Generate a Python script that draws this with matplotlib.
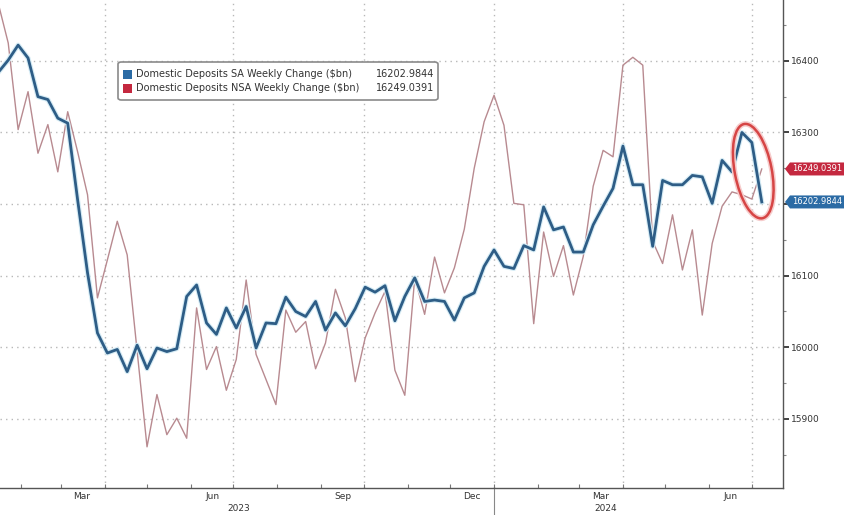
import numpy as np
import pandas as pd
import matplotlib
matplotlib.use('Agg')
import matplotlib.pyplot as plt
import matplotlib.dates as mdates
from matplotlib.patches import Ellipse, Polygon, FancyBboxPatch, Rectangle
from matplotlib.transforms import ScaledTranslation, blended_transform_factory
import matplotlib.patheffects as pe

# ---------------- data ----------------
END_DATE = '2024-07-08'

sa_values = [16384, 16401, 16422, 16404, 16350, 16346, 16320, 16313, 16206, 16104,
             16020, 15992, 15997, 15966, 16003, 15970, 15999, 15994, 15998, 16071,
             16087, 16034, 16018, 16055, 16027, 16057, 15999, 16034, 16033, 16070,
             16050, 16043, 16064, 16024, 16048, 16030, 16054, 16084, 16077, 16086,
             16037, 16071, 16097, 16064, 16066, 16064, 16038, 16069, 16076, 16113,
             16136, 16113, 16110, 16142, 16136, 16196, 16164, 16168, 16133, 16133,
             16171, 16197, 16222, 16281, 16227, 16227, 16141, 16233, 16227, 16227,
             16240, 16238, 16201, 16261, 16245, 16300, 16286, 16202.9844]

nsa_values = [16480, 16425, 16304, 16357, 16271, 16311, 16245, 16329, 16273, 16213,
              16069, 16122, 16176, 16129, 15995, 15861, 15934, 15878, 15901, 15873,
              16055, 15969, 16001, 15940, 15983, 16094, 15990, 15955, 15920, 16052,
              16021, 16036, 15970, 16006, 16081, 16041, 15952, 16013, 16048, 16078,
              15968, 15933, 16097, 16046, 16126, 16076, 16111, 16165, 16250, 16315,
              16352, 16310, 16201, 16199, 16033, 16161, 16099, 16142, 16073, 16127,
              16225, 16275, 16266, 16394, 16405, 16394, 16148, 16117, 16185, 16108,
              16164, 16045, 16145, 16197, 16217, 16213, 16207, 16249.0391]

dates = pd.date_range(end=END_DATE, periods=len(sa_values), freq='7D')

SA_LABEL = 'Domestic Deposits SA Weekly Change ($bn)'
NSA_LABEL = 'Domestic Deposits NSA Weekly Change ($bn)'

y_ticks = [15900, 16000, 16100, 16200, 16300, 16400]
y_tick_labels = ['15900', '16000', '16100', '', '16300', '16400']
month_labels = ['Mar', 'Jun', 'Sep', 'Dec', 'Mar', 'Jun']
month_label_dates = ['2023-03-16', '2023-06-16', '2023-09-16', '2023-12-16', '2024-03-16', '2024-06-16']
year_labels = ['2023', '2024']
year_label_dates = ['2023-07-05', '2024-03-20']
quarter_starts = ['2023-04-01', '2023-07-01', '2023-10-01', '2024-01-01', '2024-04-01', '2024-07-01']

# ---------------- style ----------------
SA_COLOR = '#2e5d86'
SA_GLOW = '#d6ecf5'
NSA_COLOR = '#b88a90'
TAG_RED = '#c4283f'
TAG_BLUE = '#2b6ba5'
TXT = '#333333'
GRID = '#b8b8b8'

W, H = 848, 515
fig = plt.figure(figsize=(W / 100, H / 100), dpi=100)
fig.patch.set_facecolor('white')
AX_RIGHT_PX = 783
AX_BOTTOM_PX = 488
ax = fig.add_axes([0, 1 - AX_BOTTOM_PX / H, AX_RIGHT_PX / W, AX_BOTTOM_PX / H])
ax.set_facecolor('white')

x = dates
ax.plot(x, nsa_values, color=NSA_COLOR, lw=1.0, zorder=3, solid_joinstyle='round')
ax.plot(x, sa_values, color=SA_COLOR, lw=2.0, zorder=4, solid_joinstyle='round',
        path_effects=[pe.Stroke(linewidth=3.6, foreground=SA_GLOW, joinstyle='round'), pe.Normal()])

ax.set_ylim(15803.5, 16485)
ax.set_xlim(dates[0] + pd.Timedelta(days=1.2), dates[-1] + pd.Timedelta(days=15))

# grid
for yv in y_ticks:
    ax.axhline(yv, color=GRID, lw=1.0, ls=(0, (1, 3)), zorder=1)
for q in quarter_starts:
    ax.axvline(pd.Timestamp(q), color=GRID, lw=1.0, ls=(0, (1, 3)), zorder=1)

# spines
for s in ['top', 'left']:
    ax.spines[s].set_visible(False)
ax.spines['right'].set_color('#555555')
ax.spines['bottom'].set_color('#555555')
ax.spines['right'].set_linewidth(1.0)
ax.spines['bottom'].set_linewidth(1.0)

# y axis on right
ax.yaxis.tick_right()
ax.set_yticks(y_ticks)
ax.set_yticklabels(y_tick_labels)
ax.set_yticks(np.arange(15850, 16500, 100), minor=True)
ax.tick_params(axis='y', which='major', direction='out', length=4, width=1.2,
               colors='#222222', labelsize=6.5, pad=2, labelcolor=TXT)
ax.tick_params(axis='y', which='minor', direction='out', length=2, width=0.8, colors='#888888')

# x axis
ax.set_xticks(pd.to_datetime(month_label_dates))
ax.set_xticklabels(month_labels)
ax.set_xticks(pd.date_range('2023-02-01', '2024-07-01', freq='MS'), minor=True)
ax.tick_params(axis='x', which='major', length=0, labelsize=6.5, pad=3, labelcolor=TXT)
ax.tick_params(axis='x', which='minor', direction='in', length=3, width=0.8, colors='#777777')

xtrans = blended_transform_factory(ax.transData, ax.transAxes)
for lab, d in zip(year_labels, year_label_dates):
    ax.text(pd.Timestamp(d), -0.042, lab, transform=xtrans, ha='center', va='center',
            fontsize=6.5, color=TXT)
ax.plot([pd.Timestamp('2024-01-01')] * 2, [0, -0.06], transform=xtrans, color='#888888',
        lw=0.8, clip_on=False)

# value tags on right axis
ytrans = ax.get_yaxis_transform()
for val, col in [(nsa_values[-1], TAG_RED), (sa_values[-1], TAG_BLUE)]:
    tr = fig.dpi_scale_trans + ScaledTranslation(1.0, val, ytrans)
    hh = 0.065
    poly = Polygon([(0.02, 0), (0.07, hh), (0.61, hh), (0.61, -hh), (0.07, -hh)],
                   closed=True, transform=tr, facecolor=col, edgecolor='none',
                   clip_on=False, zorder=6)
    ax.add_patch(poly)
    ax.text(0.345, 0.0, f'{val:.4f}', transform=tr, ha='center', va='center',
            fontsize=6, color='white', zorder=7, clip_on=False)

# red ellipse annotation
ell_center = (pd.Timestamp('2024-07-02'), 16246)
ell = Ellipse((0, 0), 0.37, 0.96, angle=11,
              transform=fig.dpi_scale_trans +
              ScaledTranslation(mdates.date2num(ell_center[0]), ell_center[1], ax.transData),
              fill=False, edgecolor='#d64545', lw=1.8, zorder=8,
              path_effects=[pe.Stroke(linewidth=4.0, foreground='#f6cccc'), pe.Normal()])
ax.add_patch(ell)

# legend box
def fx(px):
    return px / W

def fy(py):
    return 1 - py / H

box = FancyBboxPatch((fx(118), fy(100)), fx(438) - fx(118), fy(62) - fy(100),
                     boxstyle='round,pad=0,rounding_size=0.004', transform=fig.transFigure,
                     facecolor='white', edgecolor='#8a8a8a', lw=1.2, zorder=9)
fig.patches.append(box)
rows = [(SA_LABEL, sa_values[-1], TAG_BLUE, 74), (NSA_LABEL, nsa_values[-1], TAG_RED, 88)]
for lab, val, col, py in rows:
    sq = Rectangle((fx(123), fy(py + 4.5)), fx(9), 9 / H, transform=fig.transFigure,
                   facecolor=col, edgecolor='none', zorder=10)
    fig.patches.append(sq)
    fig.text(fx(136), fy(py), lab, ha='left', va='center', fontsize=7, color=TXT, zorder=10)
    fig.text(fx(434), fy(py), f'{val:.4f}', ha='right', va='center', fontsize=7, color=TXT, zorder=10)

fig.savefig('out.png', dpi=100, facecolor='white')
